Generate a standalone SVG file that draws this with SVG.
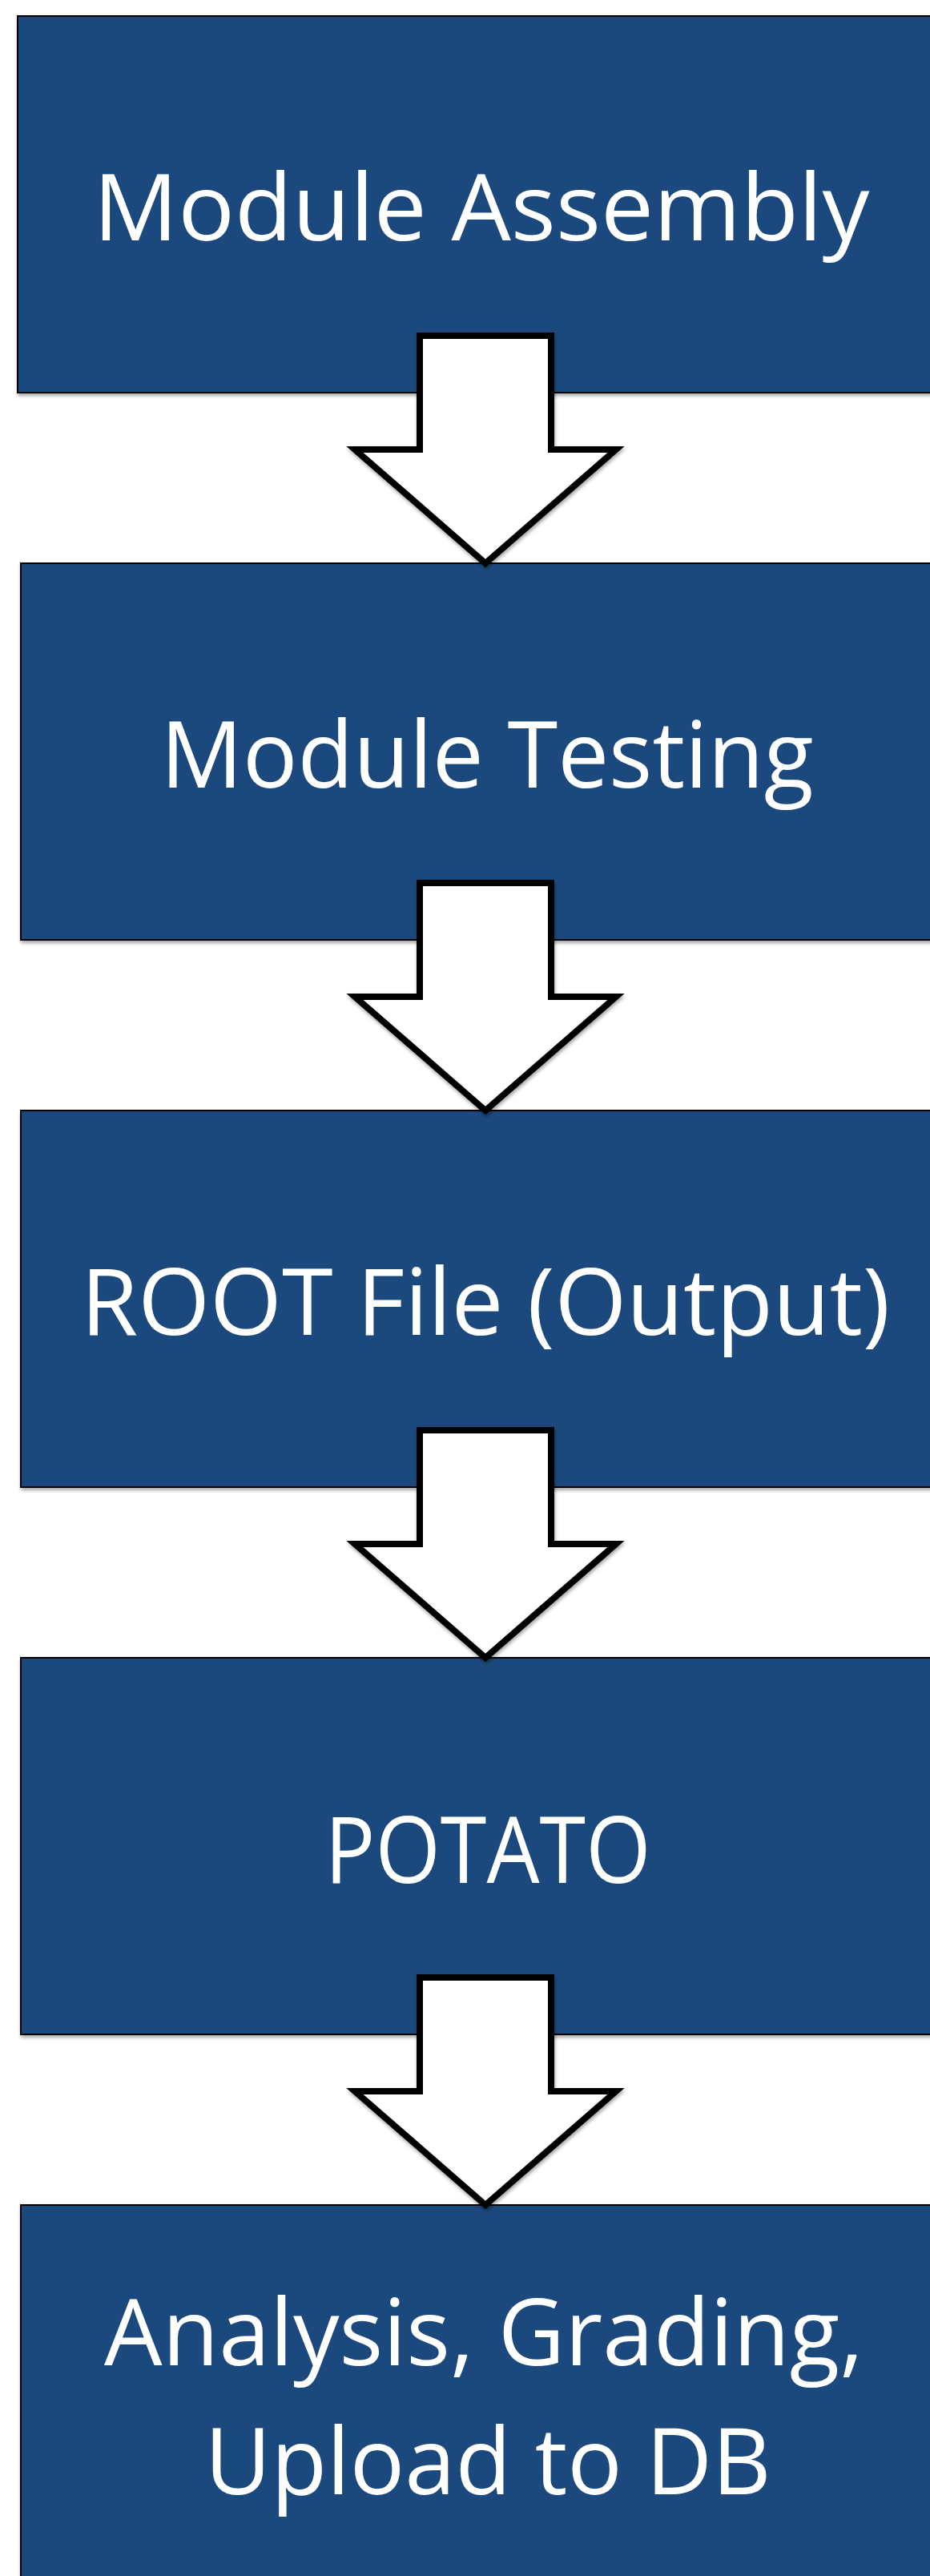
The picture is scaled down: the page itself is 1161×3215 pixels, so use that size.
<svg xmlns="http://www.w3.org/2000/svg" width="1161" height="3215" viewBox="0 0 1161 3215">
  <defs>
    <filter id="shadow" x="-5%" y="-5%" width="110%" height="115%">
      <feDropShadow dx="1" dy="3" stdDeviation="2" flood-color="#000" flood-opacity="0.35"/>
    </filter>
    <!-- block down-arrow, drawn with its shaft top at y=0 -->
    <path id="down-arrow" d="M524 0 L688 0 L688 142 L769 142 L606 284 L443 142 L524 142 Z"/>
  </defs>
  <style>
    .step { fill: #1F497D; stroke: #000; stroke-width: 2; filter: url(#shadow); }
    .label { fill: #fff; font-family: "Open Sans", "Noto Sans", sans-serif; font-size: 116px; text-anchor: middle; }
    .flow { fill: #fff; stroke: #000; stroke-width: 8; stroke-linejoin: miter; stroke-miterlimit: 10; filter: url(#shadow); }
  </style>
  <rect width="1161" height="3215" fill="#fff"/>

  <g id="assembly">
    <rect class="step" x="22" y="20" width="1180" height="470"/>
    <text class="label" x="601" y="300" textLength="969" lengthAdjust="spacingAndGlyphs">Module Assembly</text>
  </g>
  <g id="testing">
    <rect class="step" x="26" y="703" width="1180" height="470"/>
    <text class="label" x="608" y="983" textLength="815" lengthAdjust="spacingAndGlyphs">Module Testing</text>
  </g>
  <g id="root-file">
    <rect class="step" x="26" y="1386" width="1180" height="470"/>
    <text class="label" x="606" y="1666" textLength="1010" lengthAdjust="spacingAndGlyphs">ROOT File (Output)</text>
  </g>
  <g id="potato">
    <rect class="step" x="26" y="2069" width="1180" height="470"/>
    <text class="label" x="609" y="2350" textLength="407" lengthAdjust="spacingAndGlyphs">POTATO</text>
  </g>
  <g id="analysis">
    <rect class="step" x="26" y="2752" width="1180" height="480"/>
    <text class="label" x="604" y="2952" textLength="948" lengthAdjust="spacingAndGlyphs">Analysis, Grading,</text>
    <text class="label" x="609" y="3113" textLength="707" lengthAdjust="spacingAndGlyphs">Upload to DB</text>
  </g>

  <g id="connectors">
    <use href="#down-arrow" class="flow" y="419"/>
    <use href="#down-arrow" class="flow" y="1102"/>
    <use href="#down-arrow" class="flow" y="1785"/>
    <use href="#down-arrow" class="flow" y="2468"/>
  </g>
</svg>
